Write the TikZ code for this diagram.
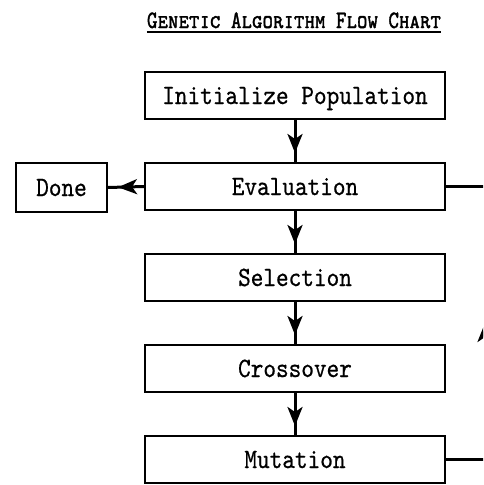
\documentclass[tikz,border=0pt]{standalone}
\usepackage{fontspec}
\usetikzlibrary{arrows.meta,decorations.markings}
\newfontfamily\boxfont[FakeStretch=0.86,FakeBold=0.6]{lmmono10-regular.otf}
\newfontfamily\titlefont[FakeStretch=0.8,FakeBold=1.5]{lmmonocaps10-regular.otf}
\tikzset{
  stepbox/.style={draw=black,line width=2pt,fill=white,minimum width=300pt,minimum height=47pt,
    inner sep=0pt,text height=17pt,text depth=0pt,font=\boxfont\fontsize{28}{32}\selectfont},
  donebox/.style={stepbox,minimum width=91pt,minimum height=49pt},
  conn/.style={line width=3pt},
  tipend/.style={postaction={decorate},decoration={markings,
    mark=at position -#1 with {\arrow{Stealth[length=19pt,width=15pt,inset=5pt]}}}},
  tipmid/.style={postaction={decorate},decoration={markings,
    mark=at position 0.5 with {\arrow{Stealth[length=19pt,width=15pt,inset=5pt]}}}},
}
\begin{document}
\begin{tikzpicture}[x=1pt,y=-1pt]
\useasboundingbox (0,0) rectangle (483,485);
\clip (0,0) rectangle (483,485);
\node[font=\titlefont\fontsize{25}{28}\selectfont,anchor=base,inner sep=0pt] (title) at (294,28) {Genetic Algorithm Flow Chart};
\draw[line width=1.8pt] ([yshift=-4pt]title.base west) -- ([yshift=-4pt]title.base east);

\node[stepbox] (init) at (295,95.5) {Initialize Population};
\node[stepbox] (eval) at (295,186.5) {Evaluation};
\node[stepbox] (sel)  at (295,277.5) {Selection};
\node[stepbox] (cross) at (295,368.5) {Crossover};
\node[stepbox] (mut)  at (295,459.5) {Mutation};
\node[donebox] (done) at (61.5,187.5) {Done};

\coordinate (rb) at (485,459.5);
\coordinate (rt) at (485,186.5);

\draw[conn,tipend=9pt] (init) -- (eval);
\draw[conn,tipend=9pt] (eval) -- (sel);
\draw[conn,tipend=9pt] (sel) -- (cross);
\draw[conn,tipend=9pt] (cross) -- (mut);
\draw[conn,tipend=10pt] (eval.west) -- (done.east);
\draw[conn,tipmid] (mut.east) -- (rb) -- (rt) -- (eval.east);
\end{tikzpicture}
\end{document}
